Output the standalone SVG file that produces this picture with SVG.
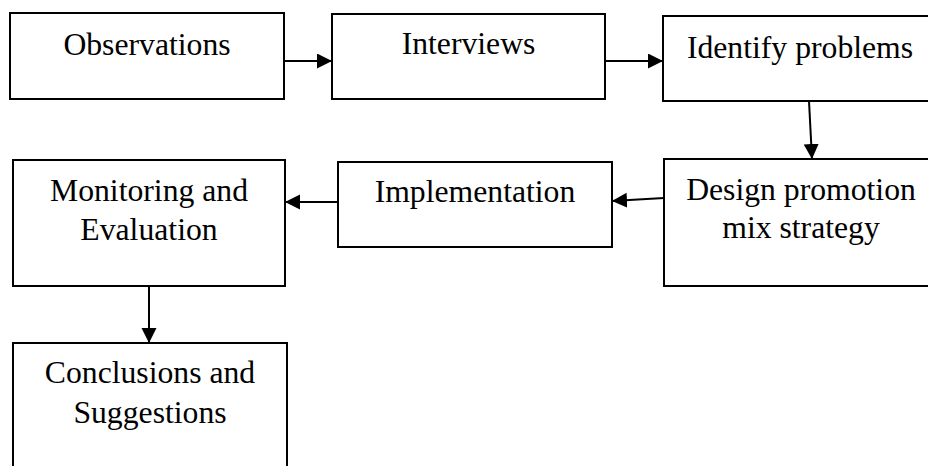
<svg xmlns="http://www.w3.org/2000/svg" width="928" height="466" viewBox="0 0 928 466">
<style>
.box{fill:#fff;stroke:#000;stroke-width:2}
.lbl{font-family:"Liberation Serif","Times New Roman",serif;font-size:31.7px;fill:#000;text-anchor:middle}
.conn{stroke:#000;stroke-width:2;fill:none;marker-end:url(#ah)}
</style>
<defs>
<marker id="ah" markerUnits="userSpaceOnUse" markerWidth="16" markerHeight="16" refX="15" refY="7.5" orient="auto" viewBox="0 0 16 16">
<path d="M0,0 L15,7.5 L0,15 z" fill="#000"/>
</marker>
</defs>
<rect width="928" height="466" fill="#fff"/>
<g id="n-observations"><rect class="box" x="10" y="13" width="274" height="86"/><text class="lbl" x="147" y="55">Observations</text></g>
<g id="n-interviews"><rect class="box" x="332" y="14" width="273" height="85"/><text class="lbl" x="468.5" y="54">Interviews</text></g>
<g id="n-identify"><rect class="box" x="663" y="16" width="274" height="85"/><text class="lbl" x="800" y="58">Identify problems</text></g>
<g id="n-design"><rect class="box" x="664" y="159" width="274" height="127"/><text class="lbl" x="801" y="200">Design promotion</text><text class="lbl" x="801" y="238">mix strategy</text></g>
<g id="n-implementation"><rect class="box" x="338" y="162" width="274" height="85"/><text class="lbl" x="475" y="202">Implementation</text></g>
<g id="n-monitoring"><rect class="box" x="13" y="160" width="272" height="126"/><text class="lbl" x="149" y="201">Monitoring and</text><text class="lbl" x="149" y="240">Evaluation</text></g>
<g id="n-conclusions"><rect class="box" x="13" y="343" width="274" height="150"/><text class="lbl" x="150" y="383">Conclusions and</text><text class="lbl" x="150" y="423">Suggestions</text></g>
<g id="connectors">
<line class="conn" x1="284" y1="61" x2="332" y2="61"/>
<line class="conn" x1="605" y1="61" x2="663" y2="61"/>
<line class="conn" x1="809" y1="101" x2="812" y2="159"/>
<line class="conn" x1="664" y1="198" x2="612" y2="201"/>
<line class="conn" x1="338" y1="202" x2="285" y2="202"/>
<line class="conn" x1="149" y1="286" x2="149" y2="343"/>
</g>
</svg>
